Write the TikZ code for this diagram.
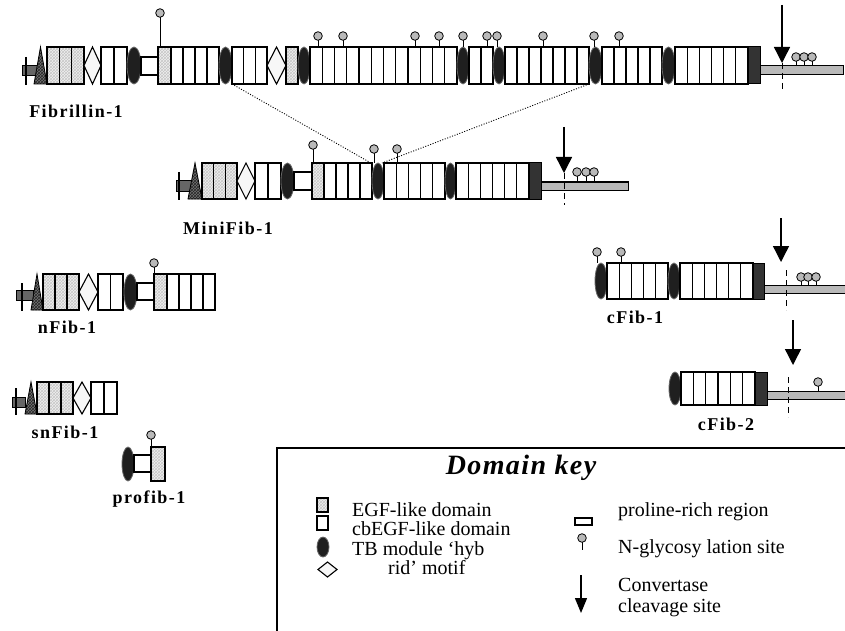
\documentclass[tikz,border=0pt]{standalone}
\usepackage{fontspec}
\setmainfont{Liberation Serif}
\newfontfamily\lblfont[LetterSpace=8]{Liberation Serif}
\newfontfamily\keyfont[LetterSpace=5]{Liberation Serif}
\usetikzlibrary{patterns,arrows.meta}

% current row: top and bottom edge of the domain boxes
\newcommand{\rowat}[2]{\def\rt{#1}\def\rb{#2}}
% n cbEGF boxes between x1 and x2
\newcommand{\cbrun}[3]{%
  \foreach \k in {1,...,#3}{%
    \draw[cbbox] ({#1+(\k-1)*(#2-#1)/#3},\rt) rectangle ({#1+\k*(#2-#1)/#3},\rb);}}
% n EGF boxes between x1 and x2
\newcommand{\egfrun}[3]{%
  \foreach \k in {1,...,#3}{%
    \draw[egfbox] ({#1+(\k-1)*(#2-#1)/#3},\rt) rectangle ({#1+\k*(#2-#1)/#3},\rb);}}
% TB module
\newcommand{\tbm}[2]{%
  \draw[tbmod] ({(#1+#2)/2},{(\rt+\rb)/2}) ellipse [x radius={(#2-#1)/2}, y radius={(\rb-\rt)/2}];}
% hybrid motif
\newcommand{\hyb}[2]{%
  \draw[hybrid] (#1,{(\rt+\rb)/2}) -- ({(#1+#2)/2},\rt) -- (#2,{(\rt+\rb)/2}) -- ({(#1+#2)/2},\rb) -- cycle;}
% proline-rich region
\newcommand{\prol}[4]{\draw[cbbox] (#1,#3) rectangle (#2,#4);}
% dark C-terminal block
\newcommand{\dblk}[2]{\draw[darkblk] (#1,\rt) rectangle (#2,\rb);}
% C-terminal tail
\newcommand{\ctail}[4]{\draw[tailbar] (#1,#3) rectangle (#2,#4);}
% N-terminus: bar x, bar y1, stub x1, stub x2, stub y1, stub y2, triangle x1, triangle x2
\newcommand{\nterm}[8]{%
  \draw[stub] (#3,#5) rectangle (#4,#6);
  \draw[nbar] (#1,#2) -- (#1,{\rb+1});
  \draw[tri] (#7,\rb) -- ({(#7+#8)/2},\rt) -- (#8,\rb) -- cycle;}
% N-glycosylation site: x, circle centre y, base y
\newcommand{\glyc}[3]{%
  \draw[glystem] (#1,#2) -- (#1,#3);
  \draw[glyhead] (#1,#2) circle [radius=4.3];}
% convertase cleavage: arrow x, arrow top, arrow tip, dash x, dash y1, dash y2
\newcommand{\cleavage}[6]{%
  \draw[cleave] (#1,#2) -- (#1,#3);
  \draw[cutline] (#4,#5) -- (#4,#6);}

\begin{document}
\begin{tikzpicture}[x=1pt,y=-1pt,
  cbbox/.style={draw=black, line width=1.1pt, fill=white},
  egfbox/.style={draw=black, line width=1.1pt, preaction={fill=gray!12}, pattern=crosshatch, pattern color=gray!45},
  tbmod/.style={fill=black!88, draw=black!60, line width=0.8pt},
  hybrid/.style={draw=black, line width=1.1pt, fill=gray!6},
  darkblk/.style={draw=black, fill=black!80, line width=1pt},
  tailbar/.style={draw=black, fill=gray!55, line width=1pt},
  stub/.style={draw=black, fill=black!60, line width=0.8pt},
  nbar/.style={line width=2.6pt, black},
  tri/.style={draw=black, line width=0.8pt, preaction={fill=black!55}, pattern=crosshatch, pattern color=black!85},
  glyhead/.style={draw=black, fill=gray!55, line width=0.8pt},
  glystem/.style={line width=1pt},
  cleave/.style={line width=1.4pt, -{Triangle[length=16pt, width=16pt]}},
  cutline/.style={line width=1pt, dash pattern=on 6pt off 4pt},
  linkline/.style={line width=0.9pt, dash pattern=on 1pt off 1.6pt},
  lbl/.style={font=\lblfont\bfseries\fontsize{18}{20}\selectfont, anchor=base, inner sep=0pt},
  keytxt/.style={font=\fontsize{20}{20}\selectfont, anchor=base west, inner sep=0pt},
]
\clip (0,0) rectangle (845,631);
\fill[white] (0,0) rectangle (845,631);

% ---------------- Fibrillin-1 ----------------
\rowat{47}{84}
\nterm{26}{57}{22}{37}{65}{75}{34}{47}
\egfrun{47}{84}{3}
\hyb{84}{101}
\cbrun{101}{127}{2}
\tbm{127}{141}
\prol{141}{158}{57}{75}
\egfrun{158}{171}{1}
\cbrun{171}{219}{4}
\tbm{219}{232}
\cbrun{232}{267}{3}
\hyb{267}{286}
\egfrun{286}{298}{1}
\tbm{298}{310}
\cbrun{310}{457}{12}
\tbm{457}{469}
\cbrun{469}{493}{2}
\tbm{493}{505}
\cbrun{505}{589}{7}
\tbm{589}{602}
\cbrun{602}{662}{5}
\tbm{662}{675}
\cbrun{675}{748}{6}
\dblk{748}{760}
\ctail{760}{843}{66}{75}
\glyc{160}{13}{47}
\foreach \gx in {318,343,415,439,463,487,497,543,594,619}{\glyc{\gx}{36}{47}}
\foreach \gx in {796,804,812}{\glyc{\gx}{57}{66}}
\cleavage{782}{5}{63}{782.5}{63}{92}
\coordinate (fibTBl) at (232,84);
\coordinate (fibTBr) at (589,84);
\node[lbl] (lFib) at (76,118) {Fibrillin-1};

% ---------------- MiniFib-1 ----------------
\rowat{163}{199}
\nterm{179}{172}{176}{193}{180}{191}{188}{202}
\egfrun{202}{237}{3}
\hyb{237}{255}
\cbrun{255}{281}{2}
\tbm{281}{294}
\prol{294}{312}{172}{190}
\egfrun{312}{324}{1}
\cbrun{324}{372}{4}
\tbm{372}{384}
\cbrun{384}{445}{5}
\tbm{445}{456}
\cbrun{456}{529}{6}
\dblk{529}{541}
\ctail{541}{628}{182}{190}
\glyc{313}{145}{163}
\glyc{374}{149}{163}
\glyc{397}{149}{163}
\foreach \gx in {577,586,594}{\glyc{\gx}{172}{182}}
\cleavage{564}{127}{173}{564}{173}{205}
\coordinate (miniTBl) at (371,163);
\coordinate (miniTBr) at (382,163);
\node[lbl] (lMini) at (228,234) {MiniFib-1};

\draw[linkline] (fibTBl) -- (miniTBl);
\draw[linkline] (fibTBr) -- (miniTBr);

% ---------------- nFib-1 ----------------
\rowat{274}{310}
\nterm{22}{283}{16}{33}{290}{300}{31}{43}
\egfrun{43}{79}{3}
\hyb{79}{98}
\cbrun{98}{123}{2}
\tbm{124}{137}
\prol{137}{154}{283}{300}
\egfrun{154}{167}{1}
\cbrun{167}{215}{4}
\glyc{154}{263}{274}
\node[lbl] (lnFib) at (67,333) {nFib-1};

% ---------------- snFib-1 ----------------
\rowat{382}{414}
\nterm{16}{388}{12}{25}{397}{407}{25}{37}
\egfrun{37}{73}{3}
\hyb{73}{91}
\cbrun{91}{117}{2}
\node[lbl] (lsnFib) at (65,438) {snFib-1};

% ---------------- profib-1 ----------------
\rowat{447}{481}
\tbm{122}{134}
\prol{134}{151}{455}{472}
\egfrun{151}{165}{1}
\glyc{151}{435}{447}
\node[lbl] (lpro) at (149,503) {profib-1};

% ---------------- cFib-1 ----------------
\rowat{263}{299}
\tbm{595}{607}
\cbrun{607}{668}{5}
\tbm{668}{680}
\cbrun{680}{753}{6}
\dblk{753}{764}
\ctail{764}{850}{285}{293}
\glyc{597}{252}{263}
\glyc{621}{252}{263}
\foreach \gx in {801,808,816}{\glyc{\gx}{277}{285}}
\cleavage{781}{218}{262}{786}{270}{310}
\node[lbl] (lcFib1) at (635,323) {cFib-1};

% ---------------- cFib-2 ----------------
\rowat{372}{405}
\tbm{669}{681}
\cbrun{681}{755}{6}
\dblk{755}{767}
\ctail{767}{850}{391}{399}
\glyc{818}{382}{391}
\cleavage{793}{320}{365}{788}{377}{417}
\node[lbl] (lcFib2) at (726,430) {cFib-2};

% ---------------- Domain key ----------------
\draw[line width=1.2pt] (277,448) rectangle (900,700);
\node[font=\keyfont\bfseries\itshape\fontsize{28}{28}\selectfont, anchor=base, inner sep=0pt] (keyhead) at (521,474) {Domain key};

\rowat{498}{512}\egfrun{317}{328}{1}
\rowat{516}{530}\cbrun{317}{328}{1}
\rowat{537}{557}\tbm{317}{329}
\rowat{562}{577}\hyb{318}{337}
\node[keytxt] (kEGF) at (352,516) {EGF-like domain};
\node[keytxt] (kcb) at (352,535) {cbEGF-like domain};
\node[keytxt] (kTB) at (352,555) {TB module ‘hyb};
\node[keytxt] (kHyb) at (388,574) {rid’ motif};

\prol{575}{592}{518}{525}
\glyc{582}{538}{550}
\draw[cleave, -{Triangle[length=15pt, width=12pt]}] (581,575) -- (581,613);
\node[keytxt] (kPro) at (618,516) {proline-rich region};
\node[keytxt] (kGly) at (618,553) {N-glycosy lation site};
\node[keytxt] (kCon) at (618,591) {Convertase};
\node[keytxt] (kClv) at (618,612) {cleavage site};
\end{tikzpicture}
\end{document}
